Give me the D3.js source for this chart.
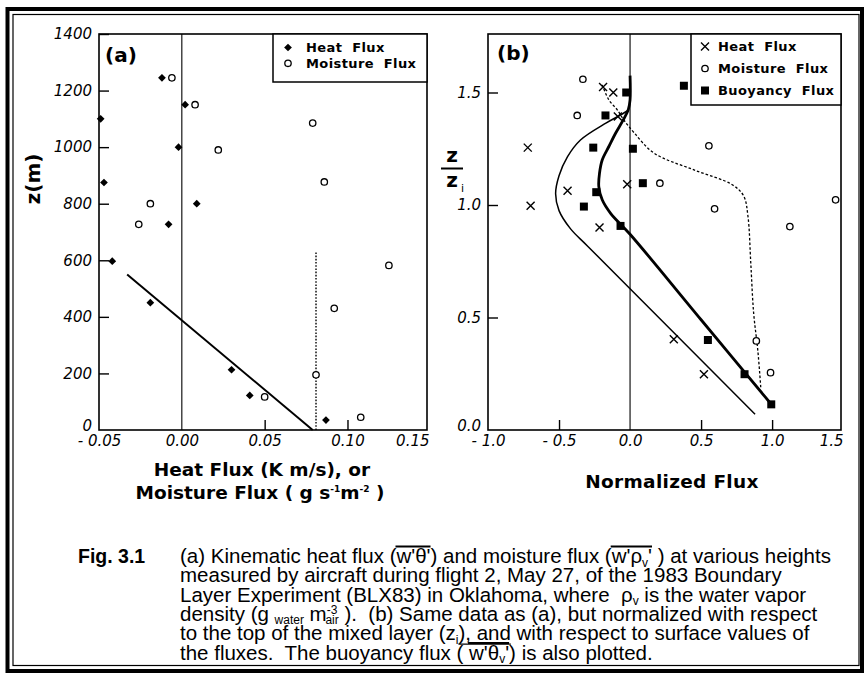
<!DOCTYPE html>
<html>
<head>
<meta charset="utf-8">
<script src="https://cdn.jsdelivr.net/npm/d3@7/dist/d3.min.js"></script>
<style>
  html, body { margin: 0; padding: 0; background: #fff; }
  svg { display: block; }
</style>
</head>
<body>
<svg id="fig" width="865" height="673"></svg>
<script>
// ---------- (a) aircraft fluxes: [flux, height z (m)] ----------
const heatFluxA = [[-0.049, 1100], [-0.012, 1245], [0.002, 1150], [-0.002, 1000], [-0.047, 875],
  [0.009, 800], [-0.008, 727], [-0.042, 597], [-0.019, 450], [0.030, 213], [0.041, 122], [0.087, 35]];
const moistureFluxA = [[-0.006, 1245], [0.008, 1150], [0.079, 1085], [0.022, 990], [0.086, 877],
  [-0.019, 800], [-0.026, 727], [0.125, 582], [0.092, 430], [0.081, 195], [0.050, 117], [0.108, 45]];
const heatFitA = [[-0.033, 550], [0.079, 0]];
const moistureMixedA = [[0.081, 0], [0.081, 630]];
const xTicksA = [-0.05, 0.00, 0.05, 0.10, 0.15];
const zTicksA = [0, 200, 400, 600, 800, 1000, 1200, 1400];
const legendA = ["Heat  Flux", "Moisture  Flux"];

// ---------- (b) normalized: [flux / surface flux, z / zi] ----------
const heatFluxB = [[-0.19, 1.524], [-0.118, 1.50], [-0.086, 1.393], [-0.72, 1.255], [-0.44, 1.063],
  [-0.70, 0.997], [-0.215, 0.90], [-0.02, 1.092], [0.308, 0.403], [0.52, 0.248]];
const moistureFluxB = [[-0.332, 1.559], [-0.372, 1.398], [0.555, 1.263], [0.21, 1.097], [0.595, 0.983],
  [1.125, 0.904], [1.447, 1.023], [0.889, 0.396], [0.989, 0.255]];
const buoyancyFluxB = [[0.379, 1.53], [-0.027, 1.50], [-0.173, 1.398], [-0.259, 1.255], [0.02, 1.25],
  [0.09, 1.097], [-0.238, 1.057], [-0.325, 0.993], [-0.067, 0.907], [0.548, 0.40], [0.806, 0.248], [0.994, 0.114]];
// hand-fitted profiles
const heatCurveB = [[0.88, 0.07], [0.30, 0.438], [-0.30, 0.818], [-0.42, 0.895], [-0.50, 0.975],
  [-0.524, 1.05], [-0.50, 1.13], [-0.44, 1.215], [-0.349, 1.289], [-0.17, 1.364], [-0.067, 1.40], [-0.015, 1.42]];
const buoyancyCurveB = [[1.0, 0.11], [0.5, 0.49], [0.0, 0.87], [-0.137, 0.963], [-0.196, 1.023],
  [-0.22, 1.082], [-0.215, 1.141], [-0.196, 1.2], [-0.149, 1.26], [-0.102, 1.319], [-0.048, 1.378],
  [-0.012, 1.425], [0, 1.467], [0, 1.575]];
const moistureCurveB = [[0.92, 0.19], [0.90, 0.35], [0.87, 0.52], [0.85, 0.74], [0.83, 0.95],
  [0.80, 1.04], [0.72, 1.09], [0.45, 1.156], [0.17, 1.23], [0.03, 1.32], [-0.044, 1.378],
  [-0.09, 1.423], [-0.149, 1.467], [-0.196, 1.534]];
const xTicksB = [-1.0, -0.5, 0.0, 0.5, 1.0, 1.5];
const zTicksB = [0.0, 0.5, 1.0, 1.5];
const legendB = ["Heat  Flux", "Moisture  Flux", "Buoyancy  Flux"];

// ---------- caption ----------
const captionLines = [
  [{t: "(a) Kinematic heat flux ("}, {t: "w'θ'", ol: 1}, {t: ") and moisture flux ("}, {t: "w'ρ", ol: 2}, {t: "v", sub: true, ol: 2}, {t: "'", ol: 2}, {t: " ) at various heights"}],
  [{t: "measured by aircraft during flight 2, May 27, of the 1983 Boundary"}],
  [{t: "Layer Experiment (BLX83) in Oklahoma, where  ρ"}, {t: "v", sub: true}, {t: " is the water vapor"}],
  [{t: "density (g "}, {t: "water", sub: true}, {t: " m"}, {t: "-3", sup: true}, {t: "air", sub: true, back: true}, {t: " ).  (b) Same data as (a), but normalized with respect"}],
  [{t: "to the top of the mixed layer (z"}, {t: "i", sub: true}, {t: "), and", ul: 1}, {t: " with respect to surface values of"}],
  [{t: "the fluxes.  The buoyancy flux ( "}, {t: "w'θ", ol: 1}, {t: "v", sub: true, ol: 1}, {t: "'", ol: 1}, {t: ") is also plotted."}]
];

const svg = d3.select("#fig");
const SANS = "'DejaVu Sans', sans-serif";
const HELV = "'Liberation Sans', Arial, sans-serif";

// double frame round the whole figure
svg.append("rect").attr("x", 7.5).attr("y", 9).attr("width", 854.5).attr("height", 662)
  .attr("fill", "none").attr("stroke", "#000").attr("stroke-width", 4);
svg.append("rect").attr("x", 13).attr("y", 14.5).attr("width", 846).attr("height", 651)
  .attr("fill", "none").attr("stroke", "#000").attr("stroke-width", 1.2);

// ---------- scales ----------
const xA = d3.scaleLinear().domain([-0.05, 0.148]).range([99, 427]);
const zA = d3.scaleLinear().domain([0, 1400]).range([430, 34]);
const xB = d3.scaleLinear().domain([-1.0, 1.485]).range([488, 841]);
const zB = d3.scaleLinear().domain([0, 1.76]).range([430, 34]);

function signed(fmt) {
  const f = d3.format(fmt);
  return d => d < 0 ? "- " + f(-d) : f(d);
}

function frame(x, z) {
  const [x0, x1] = x.range(), [y0, y1] = z.range();
  const g = svg.append("g");
  // zero-flux reference line
  g.append("line").attr("x1", x(0)).attr("x2", x(0)).attr("y1", y1).attr("y2", y0)
    .attr("stroke", "#000").attr("stroke-width", 1.1);
  g.append("rect").attr("x", x0).attr("y", y1).attr("width", x1 - x0).attr("height", y0 - y1)
    .attr("fill", "none").attr("stroke", "#000").attr("stroke-width", 1.6);
  return g;
}

function axes(x, z, xTicks, zTicks, xFmt, zFmt) {
  const [x0, x1] = x.range(), [y0] = z.range();
  const gy = svg.append("g").attr("transform", `translate(${x0},0)`)
    .call(d3.axisLeft(z).tickValues(zTicks).tickFormat(zFmt).tickSizeInner(-10).tickSizeOuter(0).tickPadding(7));
  const gx = svg.append("g").attr("transform", `translate(0,${y0})`)
    .call(d3.axisBottom(x).tickValues(xTicks).tickFormat(xFmt).tickSizeInner(-10).tickSizeOuter(0).tickPadding(5));
  [gy, gx].forEach(g => {
    g.select(".domain").remove();
    g.selectAll(".tick line").attr("stroke", "#000").attr("stroke-width", 1.4);
    g.selectAll("text").attr("fill", "#000").style("font-family", SANS)
      .style("font-style", "italic").style("font-size", "15px");
  });
  // ticks that fall on the frame, the zero line or outside the box are not drawn
  gx.selectAll(".tick").filter(d => d === 0 || x(d) <= x0 + 1 || x(d) >= x1 - 1).select("line").remove();
  const bottom = gy.selectAll(".tick").filter(d => d === zTicks[0]);
  bottom.select("line").remove();
  bottom.select("text").attr("dy", "0.05em");
  // the last flux label is pulled back inside the box width
  gx.selectAll(".tick").filter(d => x(d) > x1).select("text").attr("text-anchor", "end").attr("x", x1 - x(xTicks[xTicks.length - 1]) + 2);
  return {gx, gy};
}

function diamonds(pts, x, z) {
  svg.append("g").selectAll("path").data(pts).join("path")
    .attr("d", d3.symbol(d3.symbolSquare, 30))
    .attr("transform", d => `translate(${x(d[0])},${z(d[1])}) rotate(45)`)
    .attr("fill", "#000");
}
function circles(pts, x, z) {
  svg.append("g").selectAll("circle").data(pts).join("circle")
    .attr("cx", d => x(d[0])).attr("cy", d => z(d[1])).attr("r", 3.2)
    .attr("fill", "#fff").attr("stroke", "#000").attr("stroke-width", 1.3);
}
function squares(pts, x, z) {
  svg.append("g").selectAll("path").data(pts).join("path")
    .attr("d", d3.symbol(d3.symbolSquare, 64))
    .attr("transform", d => `translate(${x(d[0])},${z(d[1])})`)
    .attr("fill", "#000");
}
const crossPath = "M-4,-4L4,4M-4,4L4,-4";
function crosses(pts, x, z) {
  svg.append("g").selectAll("path").data(pts).join("path")
    .attr("d", crossPath)
    .attr("transform", d => `translate(${x(d[0])},${z(d[1])})`)
    .attr("fill", "none").attr("stroke", "#000").attr("stroke-width", 1.4);
}

function legend(x0, x1, y0, y1, labels, rowY, symX, textX, drawSym) {
  svg.append("rect").attr("x", x0).attr("y", y0).attr("width", x1 - x0).attr("height", y1 - y0)
    .attr("fill", "#fff").attr("stroke", "#000").attr("stroke-width", 1.5);
  labels.forEach((lab, i) => {
    const y = rowY(i);
    drawSym(i, symX, y);
    svg.append("text").attr("x", textX).attr("y", y).attr("dy", "0.36em")
      .style("font-family", SANS).style("font-weight", "bold").style("font-size", "13px")
      .style("letter-spacing", "0.4px").style("white-space", "pre").text(lab);
  });
}

function panelTag(x, y, s) {
  svg.append("text").attr("x", x).attr("y", y).style("font-family", SANS)
    .style("font-weight", "bold").style("font-size", "20px").text(s);
}

// ======================= panel (a) =======================
frame(xA, zA);
axes(xA, zA, xTicksA, zTicksA, signed(".2f"), d3.format("d"));

svg.append("path").datum(heatFitA)
  .attr("d", d3.line().x(d => xA(d[0])).y(d => zA(d[1])))
  .attr("fill", "none").attr("stroke", "#000").attr("stroke-width", 2);
svg.append("path").datum(moistureMixedA)
  .attr("d", d3.line().x(d => xA(d[0])).y(d => zA(d[1])))
  .attr("fill", "none").attr("stroke", "#000").attr("stroke-width", 1.4).attr("stroke-dasharray", "1.6,1.6");

diamonds(heatFluxA, xA, zA);
circles(moistureFluxA, xA, zA);

legend(273, 427, 34, 82, legendA, i => 47.5 + i * 15.8, 288, 306, (i, sx, sy) => {
  if (i === 0) diamonds([[xA.invert(sx), zA.invert(sy)]], xA, zA);
  else circles([[xA.invert(sx), zA.invert(sy)]], xA, zA);
});
panelTag(105, 62, "(a)");

// axis titles (a)
svg.append("text").attr("transform", "translate(40,179) rotate(-90)").attr("text-anchor", "middle")
  .style("font-family", SANS).style("font-weight", "bold").style("font-size", "20px").text("z(m)");
svg.append("text").attr("x", 262).attr("y", 476).attr("text-anchor", "middle")
  .style("font-family", SANS).style("font-weight", "bold").style("font-size", "18.5px")
  .text("Heat Flux (K m/s), or");
const mt = svg.append("text").attr("x", 260).attr("y", 499).attr("text-anchor", "middle")
  .style("font-family", SANS).style("font-weight", "bold").style("font-size", "18.5px")
  .style("white-space", "pre");
mt.append("tspan").text("Moisture Flux ( g s");
mt.append("tspan").attr("dy", -7).style("font-size", "9px").text("-1");
mt.append("tspan").attr("dy", 7).text("m");
mt.append("tspan").attr("dy", -7).style("font-size", "9px").text("-2");
mt.append("tspan").attr("dy", 7).text(" )");

// ======================= panel (b) =======================
frame(xB, zB);
axes(xB, zB, xTicksB, zTicksB, signed(".1f"), d3.format(".1f"));

const lineB = d3.line().x(d => xB(d[0])).y(d => zB(d[1])).curve(d3.curveCatmullRom.alpha(0.5));
svg.append("path").datum(moistureCurveB).attr("d", lineB)
  .attr("fill", "none").attr("stroke", "#000").attr("stroke-width", 1.3).attr("stroke-dasharray", "2.6,2");
svg.append("path").datum(heatCurveB).attr("d", lineB)
  .attr("fill", "none").attr("stroke", "#000").attr("stroke-width", 1.5);
svg.append("path").datum(buoyancyCurveB).attr("d", lineB)
  .attr("fill", "none").attr("stroke", "#000").attr("stroke-width", 2.8);

crosses(heatFluxB, xB, zB);
circles(moistureFluxB, xB, zB);
squares(buoyancyFluxB, xB, zB);

legend(691, 841, 34, 105, legendB, i => 46.5 + i * 22, 705, 718, (i, sx, sy) => {
  const p = [[xB.invert(sx), zB.invert(sy)]];
  if (i === 0) crosses(p, xB, zB);
  else if (i === 1) circles(p, xB, zB);
  else squares(p, xB, zB);
});
panelTag(497, 60, "(b)");

// z / zi axis title
const zt = svg.append("g").style("font-family", SANS).style("font-weight", "bold");
zt.append("text").attr("x", 452).attr("y", 162).attr("text-anchor", "middle").style("font-size", "20px").text("z");
zt.append("line").attr("x1", 441).attr("x2", 463).attr("y1", 168.5).attr("y2", 168.5)
  .attr("stroke", "#000").attr("stroke-width", 2);
zt.append("text").attr("x", 452).attr("y", 187).attr("text-anchor", "middle").style("font-size", "20px").text("z");
zt.append("text").attr("x", 461).attr("y", 192).style("font-size", "11px").style("font-weight", "normal").text("i");

svg.append("text").attr("x", 672).attr("y", 488).attr("text-anchor", "middle")
  .style("font-family", SANS).style("font-weight", "bold").style("font-size", "18.5px")
  .style("letter-spacing", "0.3px").text("Normalized Flux");

// ======================= caption =======================
const capTop = 563, capStep = 19.3;
svg.append("text").attr("x", 78).attr("y", capTop)
  .style("font-family", HELV).style("font-weight", "bold").style("font-size", "19.5px").text("Fig. 3.1");

captionLines.forEach((segs, li) => {
  const y = capTop + li * capStep;
  const t = svg.append("text").attr("x", 180).attr("y", y)
    .style("font-family", HELV).style("font-size", "20.5px").style("white-space", "pre");
  let shift = 0;
  const spans = [];
  segs.forEach(s => {
    const target = s.sub ? 3.5 : s.sup ? -6.5 : 0;
    const sp = t.append("tspan").attr("dy", target - shift).text(s.t);
    if (s.sub || s.sup) sp.style("font-size", "12px");
    if (s.back) sp.attr("dx", -12);
    shift = target;
    spans.push({node: sp.node(), s});
  });
  // overlines above the covariance terms, underline under the marked words
  const groups = {};
  spans.forEach(({node, s}) => {
    const key = s.ol ? "o" + s.ol : s.ul ? "u" + s.ul : null;
    if (!key) return;
    const b = node.getBBox();
    const g = groups[key] || (groups[key] = {x0: Infinity, x1: -Infinity, ul: !!s.ul});
    g.x0 = Math.min(g.x0, b.x); g.x1 = Math.max(g.x1, b.x + b.width);
  });
  Object.values(groups).forEach(g => {
    const ly = g.ul ? y + 4 : y - 16.5;
    svg.append("line").attr("x1", g.x0).attr("x2", g.x1).attr("y1", ly).attr("y2", ly)
      .attr("stroke", "#000").attr("stroke-width", g.ul ? 1.2 : 2);
  });
});
</script>
</body>
</html>
